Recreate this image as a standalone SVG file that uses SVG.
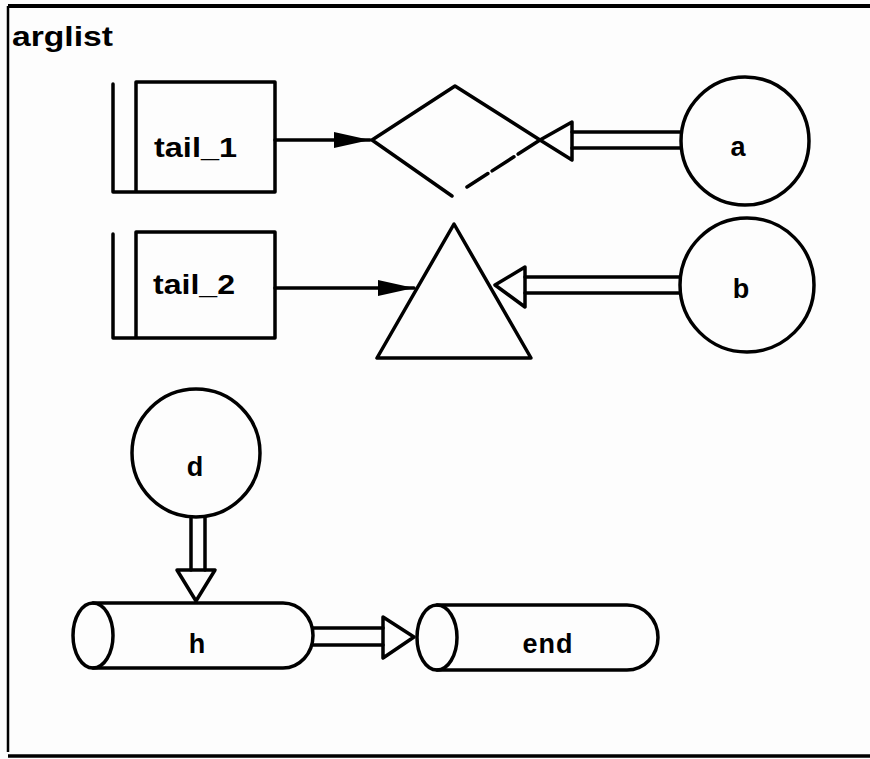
<svg xmlns="http://www.w3.org/2000/svg" width="870" height="759" viewBox="0 0 870 759">
<style>
.s{fill:none;stroke:#000;stroke-width:3.5;stroke-linejoin:round;stroke-linecap:round}
.t{font-family:"Liberation Sans",Arial,sans-serif;font-weight:bold;font-size:27px;fill:#000}
.c{text-anchor:middle}
</style>
<defs>
<marker id="fa" viewBox="0 0 36 20" refX="36" refY="10" markerWidth="36" markerHeight="20" markerUnits="userSpaceOnUse" orient="auto">
<path d="M0,2 L36,10 L0,18 Z" fill="#000"/>
</marker>
</defs>
<rect x="0" y="0" width="870" height="759" fill="#fdfdfd"/>
<g id="frame">
<path d="M8,6 H870" stroke="#000" stroke-width="4" fill="none"/>
<path d="M8,6 V752" stroke="#000" stroke-width="2.5" fill="none"/>
<path d="M8,756 H870" stroke="#000" stroke-width="3.5" fill="none"/>
<text class="t" x="12" y="46" textLength="101" lengthAdjust="spacingAndGlyphs" font-size="27">arglist</text>
</g>
<g id="connectors">
<path class="s" d="M275,140 H370" marker-end="url(#fa)"/>
<path class="s" d="M275,288 H414" marker-end="url(#fa)"/>
<path class="s" d="M680,132 H572 M680,148 H572"/>
<path class="s" d="M572,122 L540,140 L572,160 Z"/>
<path class="s" d="M680,277 H525 M680,293 H525"/>
<path class="s" d="M525,267 L495,285 L525,307 Z"/>
<path class="s" d="M191,518 V570 M205,518 V570"/>
<path class="s" d="M177,570 L196,601 L215,570 Z"/>
<path class="s" d="M313,628 H383 M313,645 H383"/>
<path class="s" d="M383,617 L414,637 L383,658 Z"/>
</g>
<g id="tail_1">
<path class="s" d="M113,84 V192 H275 V82 H136 V192"/>
<text class="t" x="154" y="157" textLength="83" lengthAdjust="spacingAndGlyphs" font-size="30">tail_1</text>
</g>
<g id="tail_2">
<path class="s" d="M113,234 V338 H275 V232 H136 V338"/>
<text class="t" x="153" y="294" textLength="82" lengthAdjust="spacingAndGlyphs" font-size="30">tail_2</text>
</g>
<g id="diamond">
<path class="s" d="M452,196 L372,140 L455,86 L540,140"/>
<path class="s" d="M540,140 L467,187" stroke-dasharray="26,5"/>
</g>
<g id="triangle">
<path class="s" d="M454,224 L377,358 L531,358 Z"/>
</g>
<g id="a">
<circle class="s" cx="745" cy="141" r="64"/>
<text class="t c" x="738" y="156">a</text>
</g>
<g id="b">
<circle class="s" cx="747" cy="285" r="67"/>
<text class="t c" x="741" y="298">b</text>
</g>
<g id="d">
<circle class="s" cx="196" cy="453" r="64"/>
<text class="t c" x="195" y="476">d</text>
</g>
<g id="h">
<path class="s" d="M93,603 H283 A30,32.5 0 0 1 283,668 H93"/>
<ellipse class="s" cx="93" cy="635.5" rx="20" ry="32.5"/>
<text class="t c" x="197" y="653">h</text>
</g>
<g id="end">
<path class="s" d="M437,605 H627 A31,32.5 0 0 1 627,670 H437"/>
<ellipse class="s" cx="437" cy="637.5" rx="20" ry="32.5"/>
<text class="t c" x="548" y="653" letter-spacing="1">end</text>
</g>
</svg>
